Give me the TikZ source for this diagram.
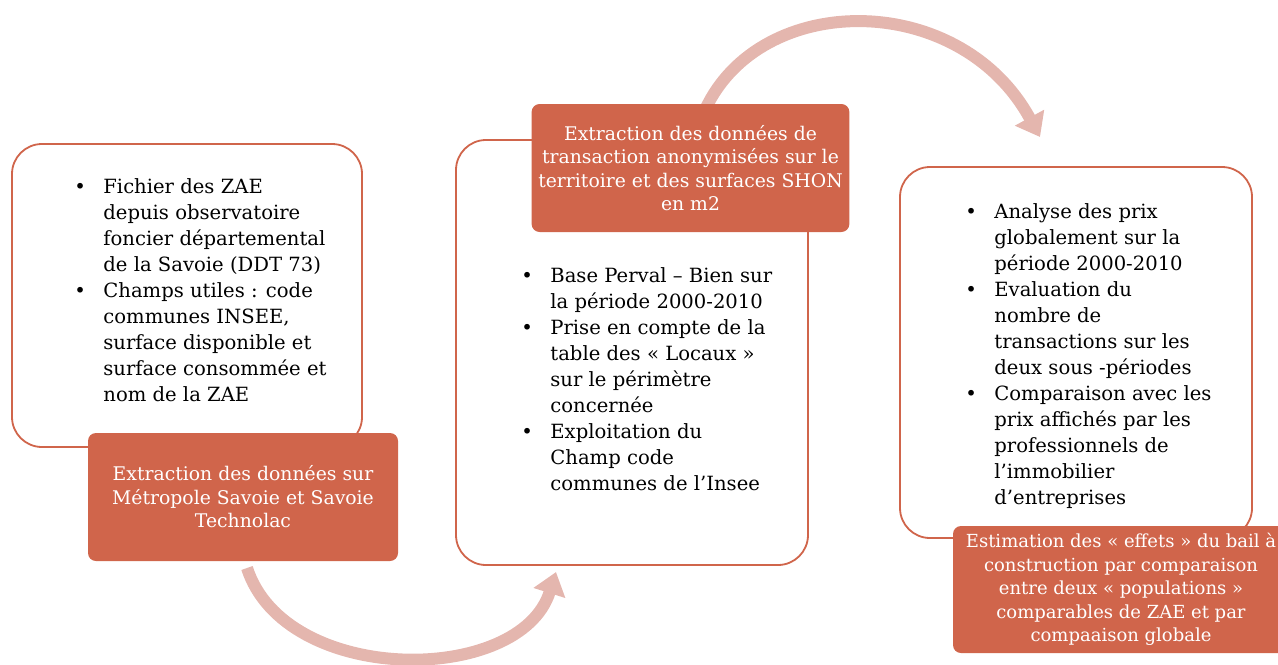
\documentclass[tikz,border=0pt]{standalone}
\usepackage{fontspec}
\setmainfont{DejaVu Serif}
\usetikzlibrary{arrows.meta}
\definecolor{brick}{RGB}{208,101,75}
\definecolor{rose}{RGB}{228,182,174}
\begin{document}
\begin{tikzpicture}[x=0.5pt, y=-0.5pt,
  panel/.style={draw=brick, line width=0.9pt, fill=white, rounded corners=15pt},
  head/.style={fill=brick, rounded corners=4pt, text=white, align=center,
    font=\fontsize{9.4}{11.75}\selectfont},
  items/.style={inner sep=0pt, anchor=base west, font=\fontsize{9.8}{13}\selectfont},
  sweep/.style={draw=rose, line width=6pt, -{Triangle[length=11pt, width=16pt]}}]
\useasboundingbox (0,0) rectangle (1278,664);
% curved arrows
\coordinate (b1) at (247,568);
\coordinate (b2) at (556,572);
\coordinate (t1) at (705,110);
\coordinate (t2) at (1040,137);
\draw [sweep] (b1) .. controls (285,686) and (520,686) .. (b2);
\draw [sweep] (t1) .. controls (760,-10) and (960,-10) .. (t2);
% panels
\node [panel, minimum width=175pt, minimum height=151.5pt] (p1) at (187,295.5) {};
\node [panel, minimum width=176pt, minimum height=212.5pt] (p2) at (632,352.5) {};
\node [panel, minimum width=176pt, minimum height=185.5pt] (p3) at (1076,352.5) {};
% bullet lists
\node [items] (l1) at (74,193) {\begin{tabular}[t]{@{}p{14.5pt}@{}l@{}}
  • & Fichier des ZAE\\
  & depuis observatoire\\
  & foncier départemental\\
  & de la Savoie (DDT 73)\\
  • & Champs utiles : code\\
  & communes INSEE,\\
  & surface disponible et\\
  & surface consommée et\\
  & nom de la ZAE
\end{tabular}};
\node [items] (l2) at (521,282) {\begin{tabular}[t]{@{}p{14.5pt}@{}l@{}}
  • & Base Perval – Bien sur\\
  & la période 2000-2010\\
  • & Prise en compte de la\\
  & table des « Locaux »\\
  & sur le périmètre\\
  & concernée\\
  • & Exploitation du\\
  & Champ code\\
  & communes de l’Insee
\end{tabular}};
\node [items] (l3) at (965,218) {\begin{tabular}[t]{@{}p{14.5pt}@{}l@{}}
  • & Analyse des prix\\
  & globalement sur la\\
  & période 2000-2010\\
  • & Evaluation du\\
  & nombre de\\
  & transactions sur les\\
  & deux sous -périodes\\
  • & Comparaison avec les\\
  & prix affichés par les\\
  & professionnels de\\
  & l’immobilier\\
  & d’entreprises
\end{tabular}};
% headers
\node [head, minimum width=155pt, minimum height=64pt] (h1) at (243,497)
  {Extraction des données  sur\\ Métropole Savoie et Savoie\\ Technolac};
\node [head, minimum width=154.5pt, minimum height=64pt] (h2) at (690.5,168)
  {Extraction des données de\\ transaction anonymisées sur le\\ territoire et des surfaces SHON\\ en m2};
\node [head, font=\fontsize{9}{11.75}\selectfont, minimum width=168pt, minimum height=63.5pt] (h3) at (1121,589.5)
  {Estimation des « effets » du bail à\\ construction  par comparaison\\ entre deux « populations »\\ comparables de ZAE et par\\ compaaison globale};
\end{tikzpicture}
\end{document}
